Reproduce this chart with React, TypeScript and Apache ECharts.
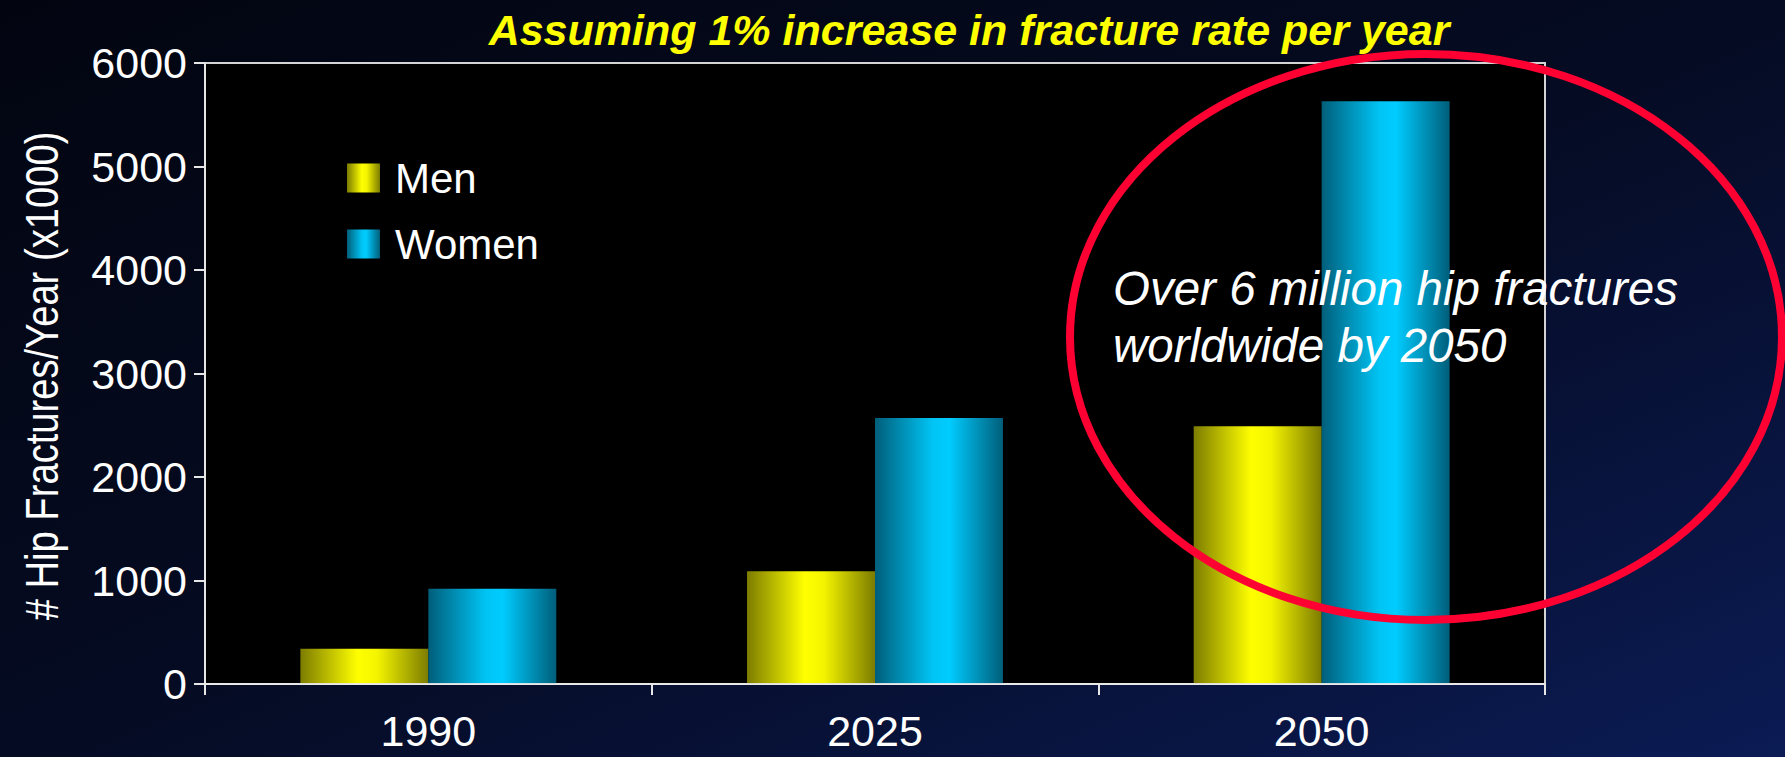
import React, { useEffect, useRef } from "react";
import * as echarts from "echarts";

const categories = ["1990", "2025", "2050"];
const menValues = [340, 1090, 2490];
const womenValues = [920, 2570, 5630];
const yTicks = { min: 0, max: 6000, interval: 1000 };
const titleText = "Assuming 1% increase in fracture rate per year";
const yAxisTitle = "# Hip Fractures/Year (x1000)";
const noteText = "Over 6 million hip fractures\nworldwide by 2050";

const SANS = "'Liberation Sans', Arial, Helvetica, sans-serif";

export default function App() {
  const ref = useRef<HTMLDivElement>(null);
  useEffect(() => {
    document.body.style.margin = "0";
    if (!ref.current) return;
    const chart = echarts.init(ref.current, undefined, { renderer: "svg" });
    const menGrad = new echarts.graphic.LinearGradient(0, 0, 1, 0, [
      { offset: 0, color: "#7c7c00" },
      { offset: 0.45, color: "#ffff00" },
      { offset: 0.6, color: "#f4f400" },
      { offset: 1, color: "#7c7c00" },
    ]);
    const womenGrad = new echarts.graphic.LinearGradient(0, 0, 1, 0, [
      { offset: 0, color: "#005e7a" },
      { offset: 0.45, color: "#00c4f4" },
      { offset: 0.58, color: "#00ccff" },
      { offset: 1, color: "#005e7a" },
    ]);
    chart.setOption({
      animation: false,
      backgroundColor: "transparent",
      grid: {
        left: 205,
        right: 240,
        top: 63,
        bottom: 73,
        show: true,
        backgroundColor: "#000000",
        borderColor: "#d4d4d4",
        borderWidth: 2,
      },
      legend: {
        data: ["Men", "Women"],
        orient: "vertical",
        left: 347,
        top: 157,
        padding: 0,
        itemWidth: 33,
        itemHeight: 29,
        itemGap: 24,
        icon: "rect",
        textStyle: {
          color: "#ffffff",
          fontSize: 42,
          fontFamily: SANS,
          lineHeight: 42,
          padding: [0, 0, 0, 10],
        },
      },
      xAxis: {
        type: "category",
        data: categories,
        z: 3,
        axisLine: { show: true, lineStyle: { color: "rgba(235,235,235,0.9)", width: 2 } },
        axisTick: { show: true, length: 11, lineStyle: { color: "#e6e6e6", width: 2 } },
        axisLabel: { color: "#ffffff", fontSize: 43, fontFamily: SANS, margin: 25 },
        splitLine: { show: false },
      },
      yAxis: {
        type: "value",
        min: yTicks.min,
        max: yTicks.max,
        interval: yTicks.interval,
        axisLine: { show: true, lineStyle: { color: "#e6e6e6", width: 2 } },
        axisTick: { show: true, length: 11, lineStyle: { color: "#e6e6e6", width: 2 } },
        axisLabel: {
          color: "#ffffff",
          fontSize: 43,
          fontFamily: SANS,
          margin: 18,
          formatter: (v: number) => String(v),
        },
        splitLine: { show: false },
      },
      series: [
        {
          name: "Men",
          type: "bar",
          data: menValues,
          barGap: "0%",
          barCategoryGap: "42.7%",
          itemStyle: { color: menGrad },
        },
        {
          name: "Women",
          type: "bar",
          data: womenValues,
          barGap: "0%",
          barCategoryGap: "42.7%",
          itemStyle: { color: womenGrad },
        },
      ],
      graphic: [
        {
          type: "text",
          x: 969,
          y: 30,
          z: 10,
          style: {
            text: titleText,
            fill: "#ffff00",
            font: `italic bold 43px ${SANS}`,
            align: "center",
            verticalAlign: "middle",
          },
        },
        {
          type: "text",
          x: 42,
          y: 376,
          rotation: Math.PI / 2,
          scaleX: 0.83,
          z: 10,
          style: {
            text: yAxisTitle,
            fill: "#ffffff",
            font: `46px ${SANS}`,
            align: "center",
            verticalAlign: "middle",
          },
        },
        {
          type: "ellipse",
          z: 20,
          shape: { cx: 1426, cy: 337, rx: 356, ry: 283 },
          style: { fill: "none", stroke: "#ff0033", lineWidth: 8 },
        },
        {
          type: "text",
          x: 1113,
          y: 317,
          z: 21,
          style: {
            text: noteText,
            fill: "#ffffff",
            font: `italic 47.5px ${SANS}`,
            lineHeight: 57,
            align: "left",
            verticalAlign: "middle",
          },
        },
      ],
    });
    return () => chart.dispose();
  }, []);
  return (
    <div
      ref={ref}
      style={{
        width: 1785,
        height: 757,
        background: "linear-gradient(to bottom right, #020510 0%, #050b22 50%, #0b1b54 100%)",
      }}
    />
  );
}
